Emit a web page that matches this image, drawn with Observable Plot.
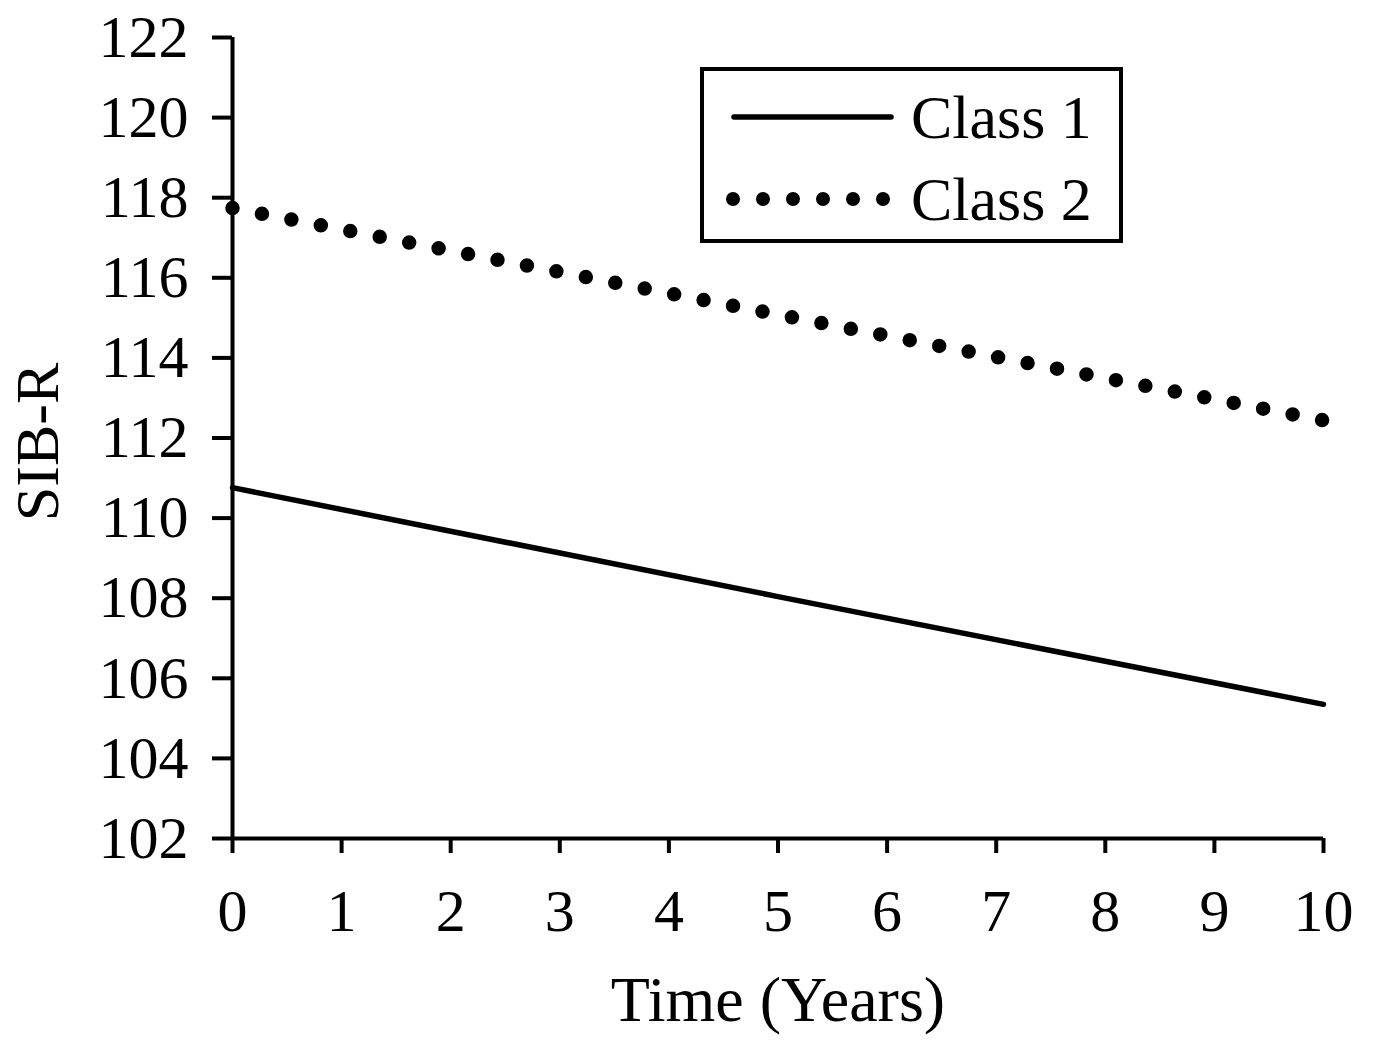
<!DOCTYPE html>
<html>
<head>
<meta charset="utf-8">
<script src="https://cdn.jsdelivr.net/npm/d3@7"></script>
<script src="https://cdn.jsdelivr.net/npm/@observablehq/plot@0.6"></script>
<style>
  html, body { margin: 0; padding: 0; background: #fff; }
  #chart { position: relative; width: 1376px; height: 1042px; }
</style>
</head>
<body>
<div id="chart"></div>
<script>
const years = [0, 5, 10];
const class1 = [110.76, 108.04, 105.35];
const class2 = [117.74, 115.08, 112.44];
const seriesNames = ["Class 1", "Class 2"];
const yTicks = [102, 104, 106, 108, 110, 112, 114, 116, 118, 120, 122];
const xTicks = [0, 1, 2, 3, 4, 5, 6, 7, 8, 9, 10];

const rows1 = years.map((t, i) => ({t, v: class1[i], s: seriesNames[0]}));
const rows2 = years.map((t, i) => ({t, v: class2[i], s: seriesNames[1]}));

const font = "'Liberation Serif', 'Times New Roman', serif";

const plot = Plot.plot({
  width: 1376,
  height: 1042,
  marginLeft: 232,
  marginRight: 53,
  marginTop: 37,
  marginBottom: 204,
  style: {fontFamily: font, fontSize: "60px", color: "#000", background: "#fff", overflow: "visible"},
  x: {domain: [0, 10]},
  y: {domain: [102, 122]},
  marks: [
    Plot.axisY({ticks: yTicks, tickSize: 20, tickPadding: 24, tickFormat: d => String(d), label: null, strokeWidth: 4}),
    Plot.axisX({ticks: xTicks, tickSize: 15, tickPadding: 35, tickFormat: d => String(d), label: null, strokeWidth: 4}),
    Plot.ruleY([102], {stroke: "#000", strokeWidth: 4}),
    Plot.ruleX([0], {stroke: "#000", strokeWidth: 4}),
    Plot.line(rows1, {x: "t", y: "v", stroke: "#000", strokeWidth: 5.5}),
    Plot.line(rows2, {x: "t", y: "v", stroke: "#000", strokeWidth: 14.5, strokeLinecap: "round", strokeDasharray: "0 30"}),
    Plot.text(["Time (Years)"], {frameAnchor: "bottom", dy: 182, fontSize: 64, fill: "#000"}),
    Plot.text(["SIB-R"], {frameAnchor: "left", textAnchor: "middle", dx: -194, dy: 4, rotate: -90, fontSize: 62, fill: "#000"})
  ]
});

document.getElementById("chart").appendChild(plot);

// Legend drawn into the same SVG
const svg = d3.select(plot);
const lg = svg.append("g").attr("font-family", font).attr("font-size", 62).attr("fill", "#000").attr("text-anchor", "start");
lg.append("rect").attr("x", 702).attr("y", 69).attr("width", 419).attr("height", 172)
  .attr("fill", "#fff").attr("stroke", "#000").attr("stroke-width", 4);
lg.append("line").attr("x1", 734).attr("x2", 891).attr("y1", 117).attr("y2", 117)
  .attr("stroke", "#000").attr("stroke-width", 5.5).attr("stroke-linecap", "round");
lg.append("line").attr("x1", 733).attr("x2", 891).attr("y1", 199).attr("y2", 199)
  .attr("stroke", "#000").attr("stroke-width", 14).attr("stroke-linecap", "round").attr("stroke-dasharray", "0 30");
lg.append("text").attr("x", 911).attr("y", 138).text(seriesNames[0]);
lg.append("text").attr("x", 911).attr("y", 220).text(seriesNames[1]);
</script>
</body>
</html>
